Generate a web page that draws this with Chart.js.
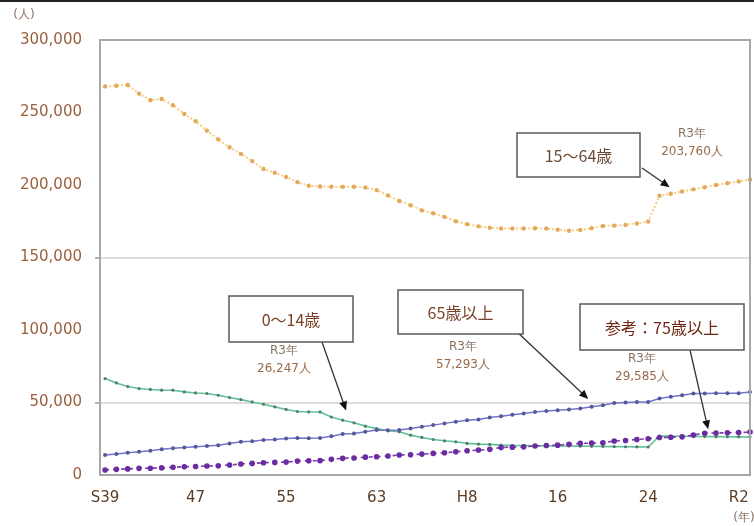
<!DOCTYPE html>
<html lang="ja">
<head>
<meta charset="utf-8">
<title>年齢区分別人口の推移</title>
<script src="https://cdn.jsdelivr.net/npm/chart.js@4.4.1/dist/chart.umd.min.js"></script>
<style>
  html, body { margin: 0; padding: 0; background: #ffffff; }
  #wrap { position: relative; width: 754px; height: 526px; }
</style>
</head>
<body>
<div id="wrap"><canvas id="c" width="754" height="526"></canvas></div>
<script>
// 年次（昭和39年〜令和3年）
const years = [
  'S39','S40','S41','S42','S43','S44','S45','S46','S47','S48','S49','S50','S51','S52','S53','S54',
  'S55','S56','S57','S58','S59','S60','S61','S62','S63',
  'H1','H2','H3','H4','H5','H6','H7','H8','H9','H10','H11','H12','H13','H14','H15','H16',
  'H17','H18','H19','H20','H21','H22','H23','H24','H25','H26','H27','H28','H29','H30',
  'R1','R2','R3'
];

// 軸に表示する年次ラベル
const tickIndex = [0, 8, 16, 24, 32, 40, 48, 56];
const tickText  = ['S39', '47', '55', '63', 'H8', '16', '24', 'R2'];

// 15〜64歳（人）
const age15to64 = [
  268000, 268500, 269000, 263000, 258500, 259300, 255000, 249000, 244000, 237500,
  231500, 226000, 221500, 216500, 211000, 208500, 205500, 202000, 199500, 199000,
  198800, 198800, 198800, 198300, 196500, 192800, 189000, 186000, 182500, 180500,
  178000, 175000, 173000, 171500, 170500, 170000, 170000, 170000, 170200, 170000,
  169200, 168500, 169000, 170200, 171800, 172000, 172500, 173500, 174800, 192600,
  194000, 195500, 197000, 198500, 200000, 201200, 202500, 203760
];

// 0〜14歳（人）
const age0to14 = [
  66500, 63500, 61000, 59600, 59000, 58500, 58500, 57300, 56600, 56200,
  55000, 53400, 52000, 50400, 48800, 47000, 45200, 43800, 43500, 43500,
  40000, 37800, 36000, 33700, 32000, 30500, 29800, 27500, 25900, 24500,
  23600, 22900, 21800, 21300, 21100, 20600, 20300, 20300, 20200, 20100,
  20000, 20000, 19900, 19800, 19700, 19600, 19500, 19400, 19300, 26900,
  26800, 26700, 26600, 26500, 26450, 26400, 26300, 26247
];

// 65歳以上（人）
const age65plus = [
  13800, 14400, 15300, 16000, 16700, 17700, 18400, 19000, 19500, 20000,
  20600, 21800, 22900, 23300, 24100, 24500, 25200, 25500, 25400, 25600,
  26800, 28200, 28700, 29800, 31000, 30800, 31000, 32100, 33200, 34400,
  35600, 36700, 37800, 38300, 39700, 40600, 41500, 42400, 43500, 44200,
  44700, 45200, 45900, 47000, 48100, 49700, 50000, 50400, 50400, 52700,
  53900, 55000, 56200, 56200, 56300, 56300, 56400, 57293
];

// 参考：75歳以上（人）
const age75plus = [
  3400, 3900, 4200, 4600, 4700, 4900, 5300, 5700, 5900, 6200,
  6400, 6900, 7600, 8000, 8500, 8700, 8900, 9600, 9800, 9900,
  10800, 11500, 11700, 12300, 12600, 13100, 13800, 14000, 14400, 14900,
  15300, 16000, 16700, 17200, 17700, 19000, 19200, 19400, 20000, 20300,
  20600, 21200, 21800, 22000, 22200, 23400, 23800, 24500, 25000, 25800,
  26000, 26300, 27600, 28800, 29000, 29100, 29300, 29585
];

const fmt = v => v.toLocaleString('en-US');
const last = arr => arr[arr.length - 1];
// 年次の並び順を x 値として系列を組み立てる
const series = arr => arr.map((v, i) => ({ x: i, y: v, year: years[i] }));

// 吹き出し（枠・説明文・矢印の先端は系列上の位置）
const callouts = [
  { text: '15～64歳', color: '#6a4a32', box: [517, 133, 123, 44], sub: [692, 134],
    from: [642, 168], tip: { i: 49.9, v: 198500 }, value: last(age15to64) },
  { text: '0～14歳', color: '#7a4028', box: [229, 296, 124, 46], sub: [284, 351],
    from: [322, 342], tip: { i: 21.3, v: 44500 }, value: last(age0to14) },
  { text: '65歳以上', color: '#7a4028', box: [398, 290, 125, 44], sub: [463, 347],
    from: [515, 330], tip: { i: 42.7, v: 52500 }, value: last(age65plus) },
  { text: '参考：75歳以上', color: '#6e2410', box: [580, 304, 164, 46], sub: [642, 359],
    from: [690, 350], tip: { i: 53.3, v: 31500 }, value: last(age75plus) }
];

const gridAt = v => (v === 50000 || v === 150000);

const decorations = {
  id: 'decorations',
  afterDraw(chart) {
    const { ctx, chartArea: a, scales } = chart;
    ctx.save();

    // 上端の線
    ctx.fillStyle = '#222222';
    ctx.fillRect(0, 0, chart.width, 2);

    // 枠（上・右）
    ctx.strokeStyle = '#a8a8a8';
    ctx.lineWidth = 2;
    ctx.beginPath();
    ctx.moveTo(a.left, a.top);
    ctx.lineTo(a.right, a.top);
    ctx.lineTo(a.right, a.bottom);
    ctx.stroke();

    // 単位
    ctx.font = '12px "DejaVu Sans", sans-serif';
    ctx.fillStyle = '#8a7060';
    ctx.textAlign = 'center';
    ctx.textBaseline = 'middle';
    ctx.fillText('(人)', 24, 15);
    ctx.fillText('(年)', 744, 518);

    callouts.forEach(c => {
      const [bx, by, bw, bh] = c.box;
      // 矢印
      const tx = scales.x.getPixelForValue(c.tip.i);
      const ty = scales.y.getPixelForValue(c.tip.v);
      const [fx, fy] = c.from;
      const ang = Math.atan2(ty - fy, tx - fx);
      ctx.strokeStyle = '#333333';
      ctx.lineWidth = 1.3;
      ctx.beginPath();
      ctx.moveTo(fx, fy);
      ctx.lineTo(tx - 5 * Math.cos(ang), ty - 5 * Math.sin(ang));
      ctx.stroke();
      ctx.fillStyle = '#111111';
      ctx.beginPath();
      ctx.moveTo(tx, ty);
      ctx.lineTo(tx - 9 * Math.cos(ang) + 4 * Math.sin(ang), ty - 9 * Math.sin(ang) - 4 * Math.cos(ang));
      ctx.lineTo(tx - 9 * Math.cos(ang) - 4 * Math.sin(ang), ty - 9 * Math.sin(ang) + 4 * Math.cos(ang));
      ctx.closePath();
      ctx.fill();

      // 枠
      ctx.fillStyle = '#ffffff';
      ctx.fillRect(bx, by, bw, bh);
      ctx.strokeStyle = '#5a5a5a';
      ctx.lineWidth = 1.5;
      ctx.strokeRect(bx, by, bw, bh);

      ctx.font = '16px "Noto Sans CJK JP", sans-serif';
      ctx.fillStyle = c.color;
      ctx.textAlign = 'center';
      ctx.textBaseline = 'middle';
      ctx.fillText(c.text, bx + bw / 2, by + bh / 2 + 1);

      // R3年の値
      ctx.font = '12px "DejaVu Sans", sans-serif';
      ctx.fillStyle = '#86705e';
      ctx.fillText('R3年', c.sub[0], c.sub[1]);
      ctx.fillStyle = '#9a6a48';
      ctx.fillText(fmt(c.value) + '人', c.sub[0], c.sub[1] + 18);
    });

    ctx.restore();
  }
};

new Chart(document.getElementById('c'), {
  type: 'line',
  data: {
    datasets: [
      {
        label: '参考：75歳以上', data: series(age75plus), order: 0,
        borderColor: '#7a3cb0', borderWidth: 1.6, borderDash: [4, 4],
        pointRadius: 2.8, pointBackgroundColor: '#6a2ca0', pointBorderWidth: 0
      },
      {
        label: '65歳以上', data: series(age65plus), order: 1,
        borderColor: '#7474c8', borderWidth: 1.5,
        pointRadius: 2, pointBackgroundColor: '#56569c', pointBorderWidth: 0
      },
      {
        label: '0～14歳', data: series(age0to14), order: 2,
        borderColor: '#5cc496', borderWidth: 1.6,
        pointRadius: 1.6, pointBackgroundColor: '#5c7c6a', pointBorderWidth: 0
      },
      {
        label: '15～64歳', data: series(age15to64), order: 3,
        borderColor: '#f9cc80', borderWidth: 2, borderDash: [2, 2],
        pointRadius: 2.2, pointBackgroundColor: '#e2ab5c', pointBorderWidth: 0
      }
    ]
  },
  options: {
    responsive: false,
    animation: false,
    clip: false,
    layout: { padding: { left: 0, right: 4, top: 40, bottom: 0 } },
    plugins: { legend: { display: false }, tooltip: { enabled: false } },
    elements: { line: { tension: 0 } },
    scales: {
      x: {
        type: 'linear',
        min: -0.45, max: years.length - 1,
        border: { display: true, color: '#a8a8a8', width: 2 },
        grid: { display: false, drawTicks: false },
        ticks: {
          stepSize: 8, includeBounds: false, autoSkip: false,
          maxRotation: 0, minRotation: 0, padding: 14,
          color: '#5c3d24',
          font: { family: '"DejaVu Sans", sans-serif', size: 15 },
          callback: v => {
            const k = tickIndex.indexOf(v);
            return k >= 0 ? tickText[k] : '';
          }
        },
        afterFit: s => { s.height = 51; s.paddingLeft = 0; s.paddingRight = 0; }
      },
      y: {
        min: 0, max: 300000,
        border: { display: true, color: '#a8a8a8', width: 2 },
        grid: {
          color: ctx => gridAt(ctx.tick.value) ? '#dcdcdc' : 'rgba(0,0,0,0)',
          tickColor: ctx => gridAt(ctx.tick.value) ? '#b0b0b0' : 'rgba(0,0,0,0)',
          lineWidth: 2, tickLength: 5
        },
        ticks: {
          stepSize: 50000, padding: 13,
          color: '#9b5f3c',
          font: { family: '"DejaVu Sans", sans-serif', size: 15 },
          callback: v => fmt(v)
        },
        afterFit: s => { s.width = 100; }
      }
    }
  },
  plugins: [decorations]
});
</script>
</body>
</html>
